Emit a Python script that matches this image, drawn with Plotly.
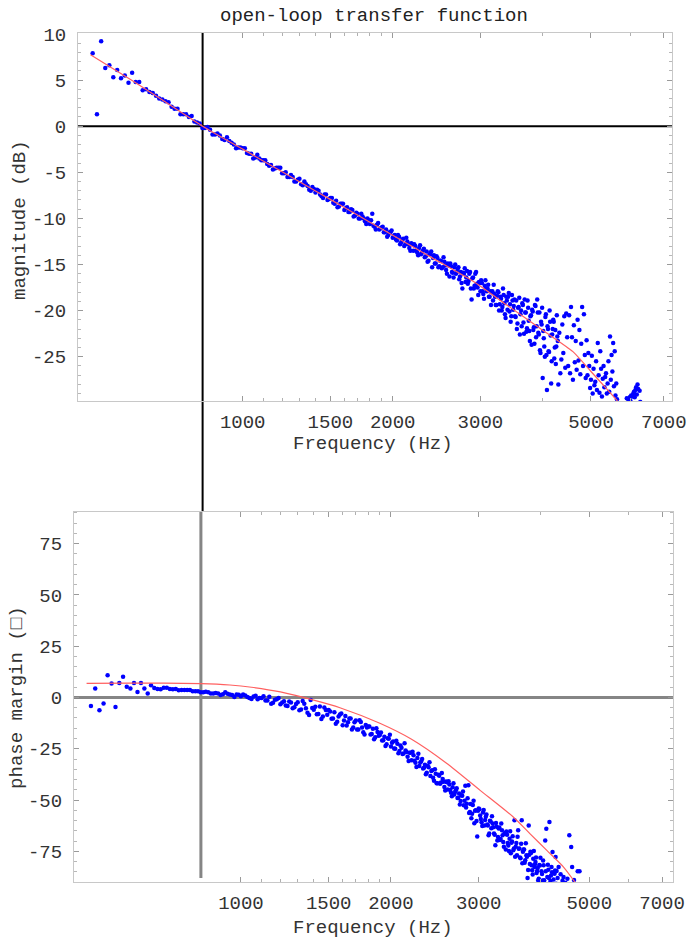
import plotly.graph_objects as go

# Measurement frequencies (Hz), main bins
F = [
    500, 510, 520, 530, 540, 550, 560, 570, 580, 590,
    600, 610, 620, 630, 640, 650, 660, 670, 680, 690,
    700, 720, 740, 760, 780, 800, 820, 840, 860, 880,
    900, 920, 940, 960, 980, 1000, 1020, 1040, 1060, 1080,
    1100, 1120, 1140, 1160, 1180, 1200, 1220, 1240, 1260, 1280,
    1300, 1320, 1340, 1360, 1380, 1400, 1420, 1440, 1460, 1480,
    1500, 1520, 1540, 1560, 1580, 1600, 1620, 1640, 1660, 1680,
    1700, 1720, 1740, 1760, 1780, 1800, 1820, 1840, 1860, 1880,
    1900, 1920, 1940, 1960, 1980, 2000, 2020, 2040, 2060, 2080,
    2100, 2120, 2140, 2160, 2180, 2200, 2220, 2240, 2260, 2280,
    2300, 2320, 2340, 2360, 2380, 2400, 2420, 2440, 2460, 2480,
    2500, 2520, 2540, 2560, 2580, 2600, 2620, 2640, 2660, 2680,
    2700, 2720, 2740, 2760, 2780, 2800, 2820, 2840, 2860, 2880,
    2900, 2920, 2940, 2960, 2980, 3000, 3020, 3040, 3060, 3080,
    3100, 3120, 3140, 3160, 3180, 3200, 3220, 3240, 3260, 3280,
    3300, 3320, 3340, 3360, 3380, 3400, 3420, 3440, 3460, 3480,
    3500, 3520, 3540, 3560, 3580, 3600, 3620, 3640, 3660, 3680,
    3700, 3720, 3740, 3760, 3780, 3800, 3820, 3840, 3860, 3880,
    3900, 3920, 3940, 3960, 3980, 4000, 4020, 4040, 4060, 4080,
    4100, 4120, 4140, 4160, 4180, 4200, 4220, 4240, 4260, 4280,
    4300, 4320, 4340, 4360, 4380, 4400, 4420, 4440, 4460, 4480,
    4500, 4520, 4540, 4560, 4580, 4600, 4620, 4640, 4660, 4680,
    4700, 4720, 4740, 4760, 4780, 4800, 4820, 4840, 4860, 4880,
    4900, 4920, 4940, 4960, 4980, 5000, 5020, 5040, 5060, 5080,
    5100, 5120, 5140, 5160, 5180, 5200, 5220, 5240, 5260, 5280,
    5300, 5320, 5340, 5360, 5380, 5400, 5420, 5440, 5460, 5480,
    5500, 5520, 5540, 5560, 5580, 5600, 5620, 5640, 5660, 5680,
    5900, 5920, 5940, 5960, 5980, 6000, 6020, 6040, 6060, 6080,
    6100, 6120, 6140, 6160, 6180, 6200, 6220, 6240, 6260, 6280,
]

# Measured open-loop magnitude (dB) at F
MAG = [
    7.9, 1.3, 9.2, 6.3, 6.6, 5.3, 6.1, 5.2, 5.5, 4.7,
    5.8, 4.8, 4.8, 3.9, 4.0, 3.7, 3.6, 3.3, 3.0, 2.9,
    2.7, 2.1, 1.9, 1.3, 1.0, 0.5, 0.3, -0.2, -0.4, -0.9,
    -1.0, -1.5, -1.6, -2.0, -2.3, -2.4, -2.9, -3.0, -3.4, -3.5,
    -3.7, -4.1, -4.2, -4.6, -4.5, -5.1, -5.0, -5.5, -5.5, -6.0,
    -5.7, -6.4, -6.3, -6.9, -6.6, -7.2, -7.0, -7.6, -7.4, -8.0,
    -7.8, -8.3, -8.1, -8.7, -8.4, -9.1, -8.8, -9.3, -9.1, -9.7,
    -9.5, -10.0, -9.8, -10.3, -10.0, -10.6, -9.5, -10.9, -10.7, -11.2,
    -11.0, -11.5, -11.2, -11.8, -11.5, -12.1, -11.8, -12.4, -12.0, -12.6,
    -12.2, -12.8, -12.5, -13.2, -12.7, -13.5, -13.0, -13.7, -13.2, -13.9,
    -13.5, -14.2, -13.6, -14.6, -13.9, -15.3, -14.0, -14.9, -14.3, -15.2,
    -14.6, -15.3, -14.7, -15.6, -14.9, -16.3, -15.2, -15.9, -15.3, -16.0,
    -15.5, -16.6, -15.8, -17.6, -16.0, -16.9, -15.7, -16.8, -15.8, -18.8,
    -16.4, -17.3, -15.8, -17.5, -16.9, -17.9, -17.0, -18.2, -17.3, -17.6,
    -17.6, -18.5, -17.9, -18.0, -18.9, -18.2, -19.4, -18.4, -18.0, -19.3,
    -18.7, -19.6, -18.3, -20.4, -18.5, -19.9, -18.1, -19.3, -20.6, -18.9,
    -19.5, -20.6, -18.9, -21.4, -19.6, -22.6, -20.0, -19.2, -21.3, -18.8,
    -20.2, -21.9, -19.7, -22.2, -20.6, -23.7, -20.1, -21.8, -19.4, -22.9,
    -18.8, -22.4, -20.2, -24.6, -21.5, -27.3, -23.0, -25.0, -20.4, -28.6,
    -22.0, -24.5, -21.2, -27.9, -22.6, -21.0, -25.2, -22.1, -23.9, -22.8,
    -28.0, -22.4, -26.8, -25.3, -21.5, -24.6, -20.6, -26.2, -20.3, -22.9,
    -26.0, -20.5, -26.8, -19.6, -22.9, -27.5, -21.6, -25.6, -23.3, -26.4,
    -21.0, -25.4, -22.1, -26.9, -23.6, -19.6, -26.0, -20.4, -24.8, -27.3,
    -23.2, -27.0, -24.6, -26.0, -28.4, -27.5, -24.9, -29.0, -26.3, -28.1,
    -27.7, -25.5, -28.6, -23.5, -27.0, -28.9, -24.4, -26.3, -29.3, -27.4,
    -26.0, -28.3, -27.2, -26.8, -29.0, -27.9, -25.5, -28.8, -22.8, -27.5,
    -24.8, -26.6, -23.5, -28.2, -24.4, -29.2, -27.9, -29.6, -30.5, -31.0,
    -29.5, -30.2, -29.6, -31.0, -29.4, -29.8, -29.2, -30.5, -29.3, -29.0,
    -28.8, -29.4, -28.6, -28.3, -29.1, -28.0, -28.5, -30.3, -28.7, -29.9,
]

# Measured phase margin (deg) at the first len(PHASE) entries of F
PHASE = [
    -4.2, 4.4, -6.2, -2.9, 10.9, 6.8, -4.6, 7.1, 10.1, 5.2,
    4.4, 7.1, 2.7, 7.1, 4.4, 2.0, 6.0, 4.6, 4.2, 4.0,
    4.7, 4.2, 4.1, 3.6, 3.6, 3.0, 3.0, 2.5, 2.5, 2.0,
    2.0, 1.6, 1.8, 1.2, 1.4, 0.6, 1.0, -0.2, 0.5, -0.9,
    -0.2, -1.5, 0.4, -2.6, -0.9, -3.3, -1.8, -4.2, -2.4, -4.8,
    -2.3, -5.8, -3.1, -7.4, -1.2, -6.0, -8.2, -4.4, -9.3, -6.1,
    -6.1, -10.4, -7.2, -11.8, -8.3, -13.6, -9.0, -12.1, -10.2, -14.6,
    -11.2, -15.6, -12.0, -16.9, -13.4, -14.2, -18.1, -15.3, -19.4, -16.8,
    -18.3, -21.0, -19.2, -22.8, -20.1, -23.9, -21.5, -25.0, -22.6, -26.1,
    -24.5, -27.3, -25.8, -28.9, -27.0, -30.6, -28.2, -31.8, -29.5, -33.4,
    -31.2, -34.6, -32.8, -36.7, -34.0, -38.3, -35.5, -40.6, -37.2, -41.8,
    -38.2, -41.5, -39.8, -43.6, -41.0, -44.9, -42.4, -46.5, -43.8, -47.3,
    -45.2, -49.0, -46.8, -50.5, -47.9, -52.6, -43.1, -51.8, -42.8, -55.9,
    -58.9, -52.4, -61.3, -55.0, -67.8, -54.2, -57.6, -60.8, -56.1, -62.4,
    -58.2, -61.9, -67.2, -60.1, -63.8, -61.5, -66.4, -72.1, -63.0, -68.1,
    -63.4, -69.0, -64.8, -70.5, -66.2, -74.1, -67.0, -72.2, -68.9, -76.0,
    -70.3, -74.5, -59.9, -72.8, -76.9, -64.8, -73.6, -78.4, -59.9, -75.2,
    -74.2, -79.4, -77.0, -88.0, -62.4, -81.2, -75.9, -84.3, -78.6, -82.7,
    -80.3, -85.6, -83.2, -88.4, -82.0, -91.0, -86.1, -79.5, -89.2, -69.7,
    -64.0, -87.6, -84.0, -60.7, -89.5, -82.7, -75.4, -88.8, -86.0, -77.8,
    -84.6, -88.0, -82.7, -91.5, -86.2, -93.0, -89.3, -87.5, -94.0, -90.5,
    -92.0, -88.4, -95.0, -67.2, -91.5, -72.9, -82.7, -93.5, -89.0, -96.0,
    -97.0, -92.5, -84.7, -95.0, -84.7, -98.0, -96.0, -99.0, -97.5, -100.0,
]

# Interleaved bins between the main ones (Hz)
F_MID = [
    710, 730, 750, 770, 790, 810, 830, 850, 870, 890,
    910, 930, 950, 970, 990, 1010, 1030, 1050, 1070, 1090,
    1110, 1130, 1150, 1170, 1190, 1210, 1230, 1250, 1270, 1290,
    1310, 1330, 1350, 1370, 1390, 1410, 1430, 1450, 1470, 1490,
    1510, 1530, 1550, 1570, 1590, 1610, 1630, 1650, 1670, 1690,
    1710, 1730, 1750, 1770, 1790, 1810, 1830, 1850, 1870, 1890,
    1910, 1930, 1950, 1970, 1990, 2010, 2030, 2050, 2070, 2090,
    2110, 2130, 2150, 2170, 2190, 2210, 2230, 2250, 2270, 2290,
    2310, 2330, 2350, 2370, 2390, 2410, 2430, 2450, 2470, 2490,
    2510, 2530, 2550, 2570, 2590, 2610, 2630, 2650, 2670, 2690,
    2710, 2730, 2750, 2770, 2790, 2810, 2830, 2850, 2870, 2890,
    2910, 2930, 2950, 2970, 2990, 3010, 3030, 3050, 3070, 3090,
    3110, 3130, 3150, 3170, 3190, 3210, 3230, 3250, 3270, 3290,
    3310, 3330, 3350, 3370, 3390, 3410, 3430, 3450, 3470, 3490,
    3510, 3530, 3550, 3570, 3590, 3610, 3630, 3650, 3670, 3690,
    3710, 3730, 3750, 3770, 3790, 3810, 3830, 3850, 3870, 3890,
    3910, 3930, 3950, 3970, 3990, 4010, 4030, 4050, 4070, 4090,
    4110, 4130, 4150, 4170, 4190, 4210, 4230, 4250, 4270, 4290,
]

MAG_MID = [
    2.6, 1.9, 1.3, 1.3, 1.1, 0.4, -0.2, -0.1, -0.9, -0.8,
    -1.4, -1.2, -1.8, -2.4, -2.3, -2.4, -3.0, -3.5, -3.1, -3.7,
    -3.7, -4.3, -4.7, -4.5, -4.5, -5.1, -5.5, -5.3, -6.0, -5.8,
    -6.3, -6.0, -6.5, -7.0, -6.8, -6.9, -7.4, -7.8, -7.4, -7.9,
    -7.8, -8.4, -8.8, -8.4, -8.4, -8.9, -9.3, -9.0, -9.8, -9.4,
    -10.0, -9.5, -10.0, -10.6, -10.2, -10.2, -10.8, -11.2, -10.5, -11.1,
    -10.9, -11.5, -12.0, -11.5, -11.3, -11.9, -12.3, -11.8, -12.8, -12.3,
    -13.0, -12.1, -12.8, -13.5, -12.8, -12.8, -13.5, -14.0, -12.9, -13.7,
    -13.3, -14.1, -14.7, -13.9, -13.6, -14.3, -14.9, -14.1, -15.3, -14.6,
    -15.4, -14.2, -15.1, -16.0, -15.1, -14.9, -15.8, -16.4, -15.0, -15.8,
    -15.3, -16.3, -17.0, -15.9, -15.4, -16.4, -17.1, -16.0, -17.6, -16.5,
    -17.6, -16.0, -17.1, -18.3, -17.0, -16.7, -17.9, -18.7, -16.7, -17.9,
    -17.2, -18.5, -19.4, -17.9, -17.2, -18.5, -19.4, -17.9, -20.0, -18.5,
    -20.0, -17.6, -19.2, -20.8, -18.9, -18.5, -20.1, -21.2, -18.3, -19.9,
    -18.8, -20.7, -22.0, -19.7, -18.6, -20.4, -21.7, -19.4, -22.5, -20.2,
    -22.3, -18.9, -21.1, -23.3, -20.5, -19.9, -22.1, -23.6, -19.5, -21.7,
    -20.2, -22.6, -24.3, -21.2, -19.7, -22.2, -23.9, -20.7, -24.8, -21.7,
    -24.4, -20.0, -22.7, -25.5, -22.0, -21.2, -24.0, -25.8, -20.5, -23.3,
]

PHASE_MID = [
    4.7, 4.0, 3.5, 3.7, 3.6, 3.0, 2.5, 2.8, 1.9, 2.2,
    1.2, 2.5, 1.4, 0.3, 1.3, 1.4, 0.2, -0.7, 0.9, -0.3,
    0.6, -1.5, -3.1, -1.1, -0.2, -2.4, -3.9, -1.9, -5.3, -3.2,
    -6.2, -1.7, -5.2, -8.6, -5.1, -4.5, -8.0, -10.5, -4.9, -8.4,
    -6.8, -10.3, -12.8, -9.3, -7.8, -11.2, -13.7, -10.2, -15.6, -12.1,
    -15.6, -11.1, -14.6, -18.1, -14.6, -14.1, -17.8, -20.4, -15.0, -18.7,
    -17.1, -20.9, -23.7, -19.9, -18.2, -22.1, -24.9, -21.1, -27.2, -23.4,
    -27.6, -22.3, -26.6, -31.0, -26.9, -26.5, -30.8, -33.9, -27.4, -31.7,
    -30.0, -34.3, -37.4, -33.3, -31.6, -35.9, -39.1, -35.0, -41.8, -37.7,
    -42.1, -36.8, -41.1, -45.4, -41.3, -40.8, -45.1, -48.2, -41.8, -46.1,
    -44.3, -48.9, -52.2, -47.7, -45.8, -50.4, -53.7, -49.2, -56.4, -51.9,
    -56.7, -50.4, -55.3, -60.2, -55.3, -54.5, -59.3, -62.7, -54.9, -59.7,
    -57.1, -62.5, -66.3, -60.5, -57.9, -63.3, -67.0, -61.2, -69.7, -63.9,
    -69.5, -61.5, -67.2, -72.8, -66.5, -65.4, -71.0, -74.9, -65.2, -70.8,
    -67.7, -73.6, -77.7, -71.0, -67.9, -73.8, -78.0, -71.3, -80.9, -74.2,
    -80.6, -71.1, -77.7, -84.2, -76.7, -75.3, -81.8, -86.4, -74.9, -81.5,
    -78.1, -84.6, -89.2, -81.7, -78.2, -84.8, -89.3, -81.8, -92.3, -84.8,
    -91.2, -81.6, -88.0, -94.4, -86.8, -85.2, -91.6, -96.0, -84.4, -90.8,
]

# Fitted model curves
MAG_FIT_F = [495, 600, 700, 831, 1000, 1200, 1400, 1600, 1800, 2000,
             2400, 2900, 3400, 4000, 4600, 5000, 5400, 5650]
MAG_FIT = [7.75, 4.95, 2.61, 0.0, -2.49, -4.95, -7.02, -8.82, -10.41, -11.82,
           -14.28, -16.82, -19.45, -22.13, -24.45, -26.6, -28.6, -29.8]

PH_FIT_F = [490, 600, 700, 831, 950, 1050, 1200, 1400, 1580, 1900,
            2200, 2590, 3020, 3520, 3800, 4110, 4440, 4680]
PH_FIT = [6.9, 7.0, 7.0, 6.8, 6.1, 5.0, 2.7, -1.3, -5.0, -12.6,
          -20.4, -32.2, -45.3, -58.3, -66.4, -74.6, -82.7, -90.0]

# Unity-gain crossover frequency (Hz)
CROSSOVER_HZ = 831

X_TICKS = [1000, 1500, 2000, 3000, 5000, 7000]
X_MINOR = [1100, 1200, 1300, 1400, 1600, 1700, 1800, 1900, 4000, 6000]
MAG_TICKS = [-25, -20, -15, -10, -5, 0, 5, 10]
PH_TICKS = [-75, -50, -25, 0, 25, 50, 75]

FONT = "Liberation Mono"
TICKFONT = dict(family=FONT, size=19, color="#333333")
DOT = dict(color="#0000ff", size=4.5, line=dict(width=0))
FIT_LINE = dict(color="#ff6060", width=1.2, shape="spline", smoothing=0.6)


def x_axis(domain, rng, anchor):
    return dict(
        type="log", domain=domain, range=rng, anchor=anchor,
        tickmode="array", tickvals=X_TICKS, ticktext=[str(v) for v in X_TICKS],
        ticks="inside", ticklen=5, tickwidth=1, tickcolor="#9a9a9a",
        minor=dict(tickmode="array", tickvals=X_MINOR, ticks="inside",
                   ticklen=3, tickcolor="#b0b0b0", showgrid=False),
        showline=True, linecolor="#c8c8c8", linewidth=1, mirror="ticks",
        showgrid=False, zeroline=False, tickfont=TICKFONT,
        ticklabelstandoff=3, automargin=False,
    )


def y_axis(domain, rng, anchor, ticks, minor_step):
    return dict(
        domain=domain, range=rng, anchor=anchor,
        tickmode="array", tickvals=ticks, ticktext=[str(v) for v in ticks],
        ticks="inside", ticklen=5, tickwidth=1, tickcolor="#9a9a9a",
        minor=dict(dtick=minor_step, tick0=0, ticks="inside", ticklen=3,
                   tickcolor="#b8b8b8", showgrid=False),
        showline=True, linecolor="#c8c8c8", linewidth=1, mirror="ticks",
        showgrid=False, zeroline=False, tickfont=TICKFONT,
        ticklabelstandoff=7, automargin=False,
    )


fig = go.Figure()

fig.add_trace(go.Scatter(
    x=F + F_MID, y=MAG + MAG_MID, mode="markers", xaxis="x", yaxis="y",
    marker=DOT, showlegend=False, hoverinfo="skip"))
fig.add_trace(go.Scatter(
    x=MAG_FIT_F, y=MAG_FIT, mode="lines", xaxis="x", yaxis="y",
    line=FIT_LINE, showlegend=False, hoverinfo="skip"))

fig.add_trace(go.Scatter(
    x=F[:len(PHASE)] + F_MID, y=PHASE + PHASE_MID, mode="markers",
    xaxis="x2", yaxis="y2", marker=DOT, showlegend=False, hoverinfo="skip"))
fig.add_trace(go.Scatter(
    x=PH_FIT_F, y=PH_FIT, mode="lines", xaxis="x2", yaxis="y2",
    line=FIT_LINE, showlegend=False, hoverinfo="skip"))

TOP_Y = [0.5725, 0.9648]
BOT_Y = [0.0597, 0.4542]

fig.update_layout(
    width=692, height=938,
    margin=dict(l=0, r=0, t=0, b=0),
    paper_bgcolor="white", plot_bgcolor="white",
    xaxis=x_axis([0.1127, 0.9711], [2.6695, 3.8616], "y"),
    yaxis=y_axis(TOP_Y, [-29.8, 10.1], "x", MAG_TICKS, 1),
    xaxis2=x_axis([0.1069, 0.9725], [2.6649, 3.8670], "y2"),
    yaxis2=y_axis(BOT_Y, [-90, 90.5], "x2", PH_TICKS, 5),
    shapes=[
        dict(type="line", xref="x domain", yref="y", x0=0, x1=1, y0=0, y1=0,
             line=dict(color="black", width=2), layer="below"),
        dict(type="line", xref="x2 domain", yref="y2", x0=0, x1=1, y0=0, y1=0,
             line=dict(color="#858585", width=3), layer="below"),
        dict(type="line", xref="x", yref="paper", x0=CROSSOVER_HZ, x1=CROSSOVER_HZ,
             y0=BOT_Y[1], y1=TOP_Y[1], line=dict(color="black", width=2), layer="below"),
        dict(type="line", xref="x2", yref="y2", x0=CROSSOVER_HZ, x1=CROSSOVER_HZ,
             y0=-88, y1=90.5, line=dict(color="#858585", width=3), layer="below"),
    ],
    annotations=[
        dict(text="open-loop transfer function", xref="paper", yref="paper",
             x=0.5405, y=0.983, xanchor="center", yanchor="middle", showarrow=False,
             font=dict(family=FONT, size=19, color="#222222")),
        dict(text="Frequency (Hz)", xref="paper", yref="paper",
             x=0.5383, y=0.5262, xanchor="center", yanchor="middle", showarrow=False,
             font=dict(family=FONT, size=19, color="#333333")),
        dict(text="Frequency (Hz)", xref="paper", yref="paper",
             x=0.5383, y=0.0105, xanchor="center", yanchor="middle", showarrow=False,
             font=dict(family=FONT, size=19, color="#333333")),
        dict(text="magnitude (dB)", xref="paper", yref="paper", textangle=-90,
             x=0.0289, y=0.7655, xanchor="center", yanchor="middle", showarrow=False,
             font=dict(family=FONT, size=19, color="#333333")),
        dict(text="phase margin (\u25a1)", xref="paper", yref="paper", textangle=-90,
             x=0.0246, y=0.2560, xanchor="center", yanchor="middle", showarrow=False,
             font=dict(family=FONT, size=19, color="#333333")),
    ],
)

fig.write_html("out.html")
